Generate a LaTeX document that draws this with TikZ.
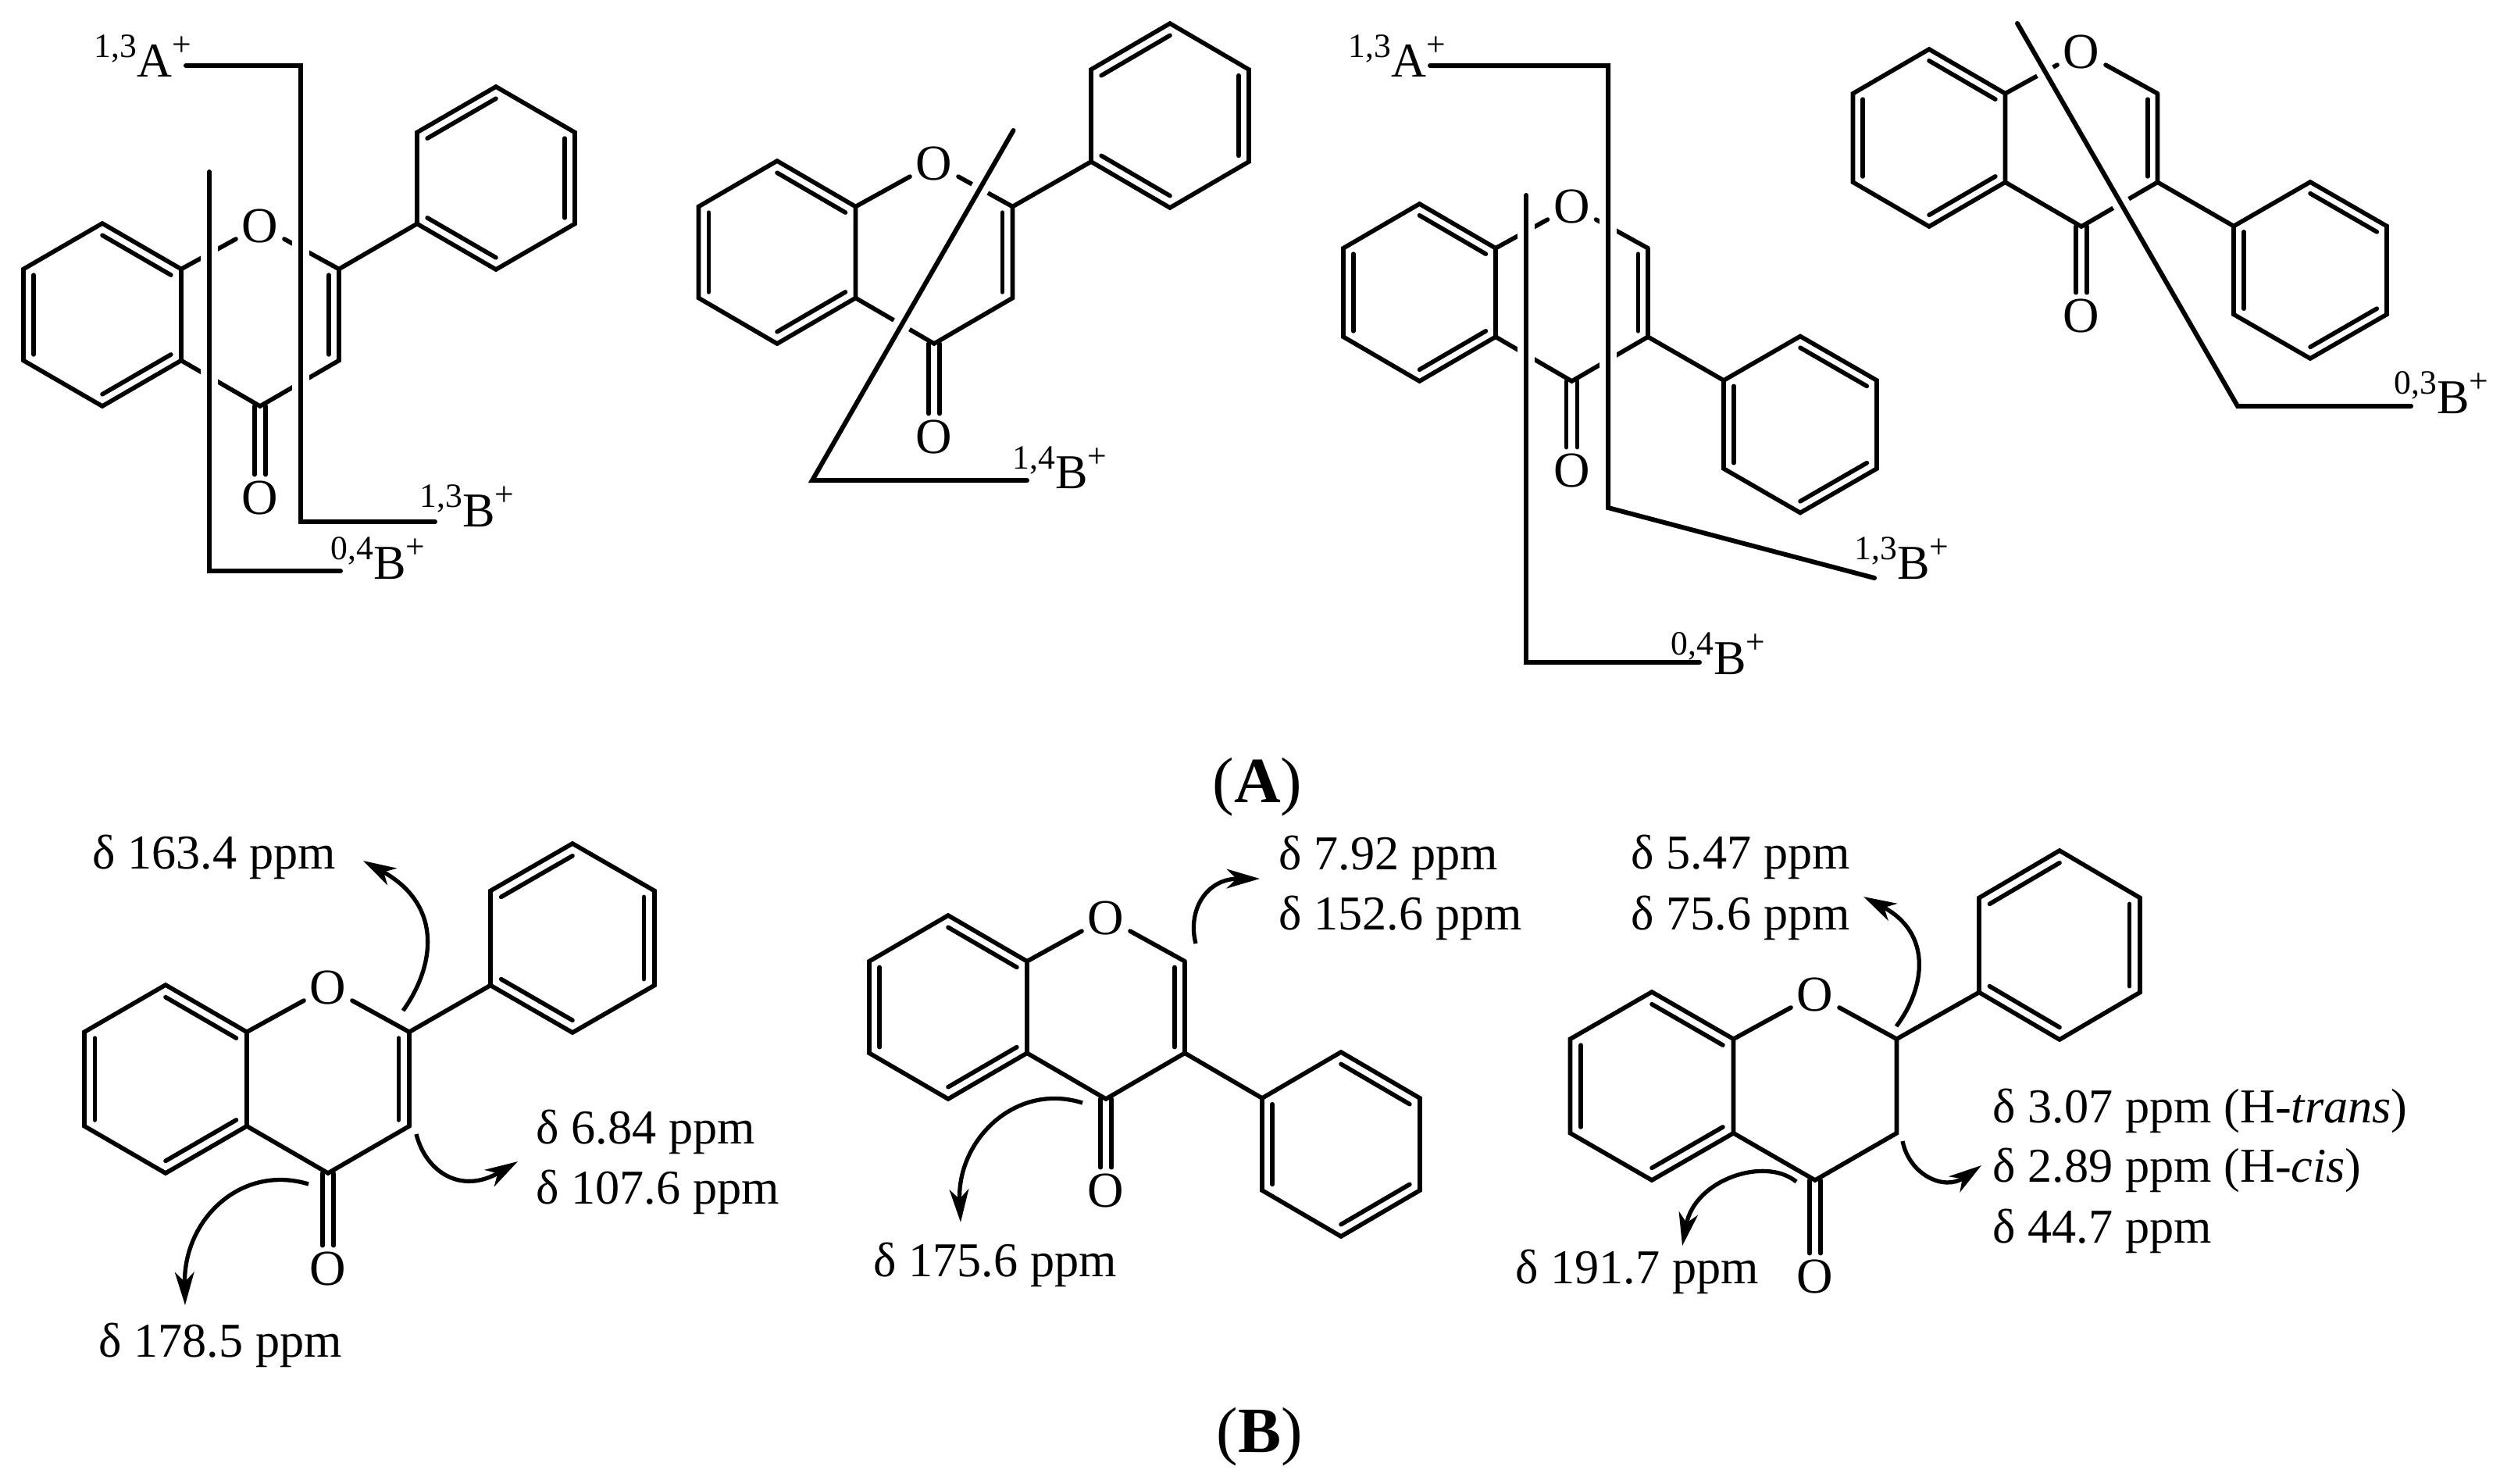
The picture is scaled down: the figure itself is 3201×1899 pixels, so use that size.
\documentclass[tikz,border=0pt]{standalone}
\usepackage{fontspec}
\setmainfont{Liberation Serif}
\usetikzlibrary{calc,arrows.meta}

\tikzset{
  bond/.style={line width=1.6pt,line cap=round},
  atom/.style={font=\fontsize{18.3}{20}\selectfont,inner sep=2pt},
  lbl/.style={font=\fontsize{17.7}{20}\selectfont,anchor=base west,inner sep=0pt},
  title/.style={font=\fontsize{23.5}{26}\selectfont,anchor=base west,inner sep=0pt},
  cutline/.style={line width=1.7pt,line cap=round},
  cuthalo/.style={line width=6.5pt,white},
  shiftarrow/.style={line width=1.5pt,-{Stealth[length=12pt,width=7pt,inset=3.5pt]}}
}

% six corners of a ring: prefix, centre x, centre y, half width, half height
\newcommand{\hexpts}[5]{
  \coordinate (#1c) at (#2,#3);
  \coordinate (#1t) at (#2,#3-#5);
  \coordinate (#1ur) at (#2+#4,#3-#5/2);
  \coordinate (#1lr) at (#2+#4,#3+#5/2);
  \coordinate (#1b) at (#2,#3+#5);
  \coordinate (#1ll) at (#2-#4,#3+#5/2);
  \coordinate (#1ul) at (#2-#4,#3-#5/2);
}
\newcommand{\dbl}[3]{\draw[bond] ($(#1)!.13!(#3)$) -- ($(#2)!.13!(#3)$);}
\newcommand{\hexa}[1]{\draw[line width=1.6pt] (#1t) -- (#1ur) -- (#1lr) -- (#1b) -- (#1ll) -- (#1ul) -- cycle;}
\newcommand{\dblA}[1]{\dbl{#1ul}{#1t}{#1c} \dbl{#1ur}{#1lr}{#1c} \dbl{#1ll}{#1b}{#1c}}
\newcommand{\dblB}[1]{\dbl{#1t}{#1ur}{#1c} \dbl{#1ul}{#1ll}{#1c} \dbl{#1b}{#1lr}{#1c}}

% fused rings: prefix, centre x, centre y, half width, half height, y of carbonyl O
\newcommand{\core}[6]{
  \hexpts{#1a}{#2}{#3}{#4}{#5}
  \hexpts{#1p}{#2+2*#4}{#3}{#4}{#5}
  \node[atom] (#1ox) at ($(#1pt)+(0,3)$) {O};
  \node[atom] (#1co) at (#2+2*#4,#6) {O};
  \hexa{#1a}
  \dblB{#1a}
  \draw[bond] (#1aur) -- (#1ox);
  \draw[bond] (#1ox) -- (#1pur);
  \draw[line width=1.6pt] (#1pur) -- (#1plr) -- (#1pb) -- (#1alr);
  \draw[bond] ($(#1pb)+(-7,0)$) -- ($(#1co.north)+(-7,0)$);
  \draw[bond] ($(#1pb)+(7,0)$) -- ($(#1co.north)+(7,0)$);
}

% cut line with one corner: name, three points
\newcommand{\cutmark}[4]{
  \coordinate (#1a) at (#2);
  \coordinate (#1b) at (#3);
  \coordinate (#1c) at (#4);
  \draw[cuthalo] (#1a) -- (#1b);
  \draw[cutline] (#1a) -- (#1b) -- (#1c);
}

\newcommand{\frag}[2]{\raisebox{.4em}{\fontsize{12.4}{12}\selectfont #1}#2\raisebox{.42em}{\fontsize{12.4}{12}\selectfont +}}

% curved arrow: name, start, control, control, tip
\newcommand{\shift}[5]{
  \coordinate (#1s) at (#2);
  \coordinate (#1t) at (#5);
  \draw[shiftarrow] (#1s) .. controls (#3) and (#4) .. (#1t);
}

\begin{document}
\begin{tikzpicture}[x=.01cm,y=-.01cm]
\useasboundingbox (0,0) rectangle (3201,1899);

% (A) fragmentation
\core{m}{131}{403}{101}{117}{637}
\dbl{mpur}{mplr}{mpc}
\hexpts{mr}{635}{228}{101}{117}
\hexa{mr}
\dblA{mr}
\draw[bond] (mpur) -- (mrll);
\cutmark{mk}{268,220}{268,731}{436,731}
\coordinate (mka) at (238,84);
\coordinate (mkb) at (385,84);
\coordinate (mkc) at (385,668);
\coordinate (mkd) at (557,668);
\draw[cuthalo] (mkb) -- (mkc);
\draw[cutline] (mka) -- (mkb) -- (mkc) -- (mkd);
\node[lbl] (mfa) at (120,98) {\frag{1,3}{A}};
\node[lbl] (mfb) at (537,674) {\frag{1,3}{B}};
\node[lbl] (mfc) at (423,741) {\frag{0,4}{B}};

\core{n}{995}{323}{100.5}{117}{559}
\dbl{npur}{nplr}{npc}
\hexpts{nr}{1498}{148}{101}{118}
\hexa{nr}
\dblA{nr}
\draw[bond] (npur) -- (nrll);
\cutmark{nk}{1297.5,167}{1040,615}{1315,615}
\node[lbl] (nfa) at (1296,625) {\frag{1,4}{B}};

\core{q}{1817.5}{374.5}{97.5}{113.5}{602}
\dbl{qpur}{qplr}{qpc}
\hexpts{qr}{2305}{543.5}{98}{113}
\hexa{qr}
\dblB{qr}
\draw[bond] (qplr) -- (qrul);
\cutmark{qk}{1954,250}{1954,848}{2176,848}
\coordinate (qla) at (1831,84);
\coordinate (qlb) at (2059,84);
\coordinate (qlc) at (2059,650);
\coordinate (qld) at (2400,740);
\draw[cuthalo] (qlb) -- (qlc);
\draw[cutline] (qla) -- (qlb) -- (qlc) -- (qld);
\node[lbl] (qfa) at (1726,98) {\frag{1,3}{A}};
\node[lbl] (qfb) at (2374,741) {\frag{1,3}{B}};
\node[lbl] (qfc) at (2139,863) {\frag{0,4}{B}};

\core{s}{2470}{176.5}{97.5}{113.5}{404}
\dbl{spur}{splr}{spc}
\hexpts{sr}{2958}{346}{98}{113}
\hexa{sr}
\dblB{sr}
\draw[bond] (splr) -- (srul);
\cutmark{sk}{2583,30}{2865,520}{3087,520}
\node[lbl] (sfa) at (3065,529) {\frag{0,3}{B}};

\node[title] (ta) at (1552,1027) {(\textbf{A})};

% (B) shifts
\core{u}{212}{1381.5}{104}{120.5}{1624}
\dbl{upur}{uplr}{upc}
\hexpts{ur}{733}{1201}{105}{121}
\hexa{ur}
\dblA{ur}
\draw[bond] (upur) -- (urll);
\shift{ua}{516,1294}{555,1240}{570,1160}{465,1102}
\shift{ub}{533,1452}{545,1500}{590,1530}{663,1487}
\shift{uc}{395,1516}{310,1490}{235,1560}{237,1671}
\node[lbl] (ula) at (118,1112) {δ 163.4 ppm};
\node[lbl] (ulb) at (686,1464) {δ 6.84 ppm};
\node[lbl] (ulc) at (686,1541) {δ 107.6 ppm};
\node[lbl] (uld) at (126,1737) {δ 178.5 ppm};

\core{v}{1214}{1289.5}{101}{117.5}{1524}
\dbl{vpur}{vplr}{vpc}
\hexpts{vr}{1717}{1465}{101}{118}
\hexa{vr}
\dblB{vr}
\draw[bond] (vplr) -- (vrul);
\shift{va}{1531,1208}{1520,1165}{1545,1125}{1613,1125}
\shift{vb}{1386,1412}{1300,1385}{1225,1460}{1230,1565}
\node[lbl] (vla) at (1637,1113) {δ 7.92 ppm};
\node[lbl] (vlb) at (1637,1190) {δ 152.6 ppm};
\node[lbl] (vlc) at (1118,1634) {δ 175.6 ppm};

\core{w}{2115}{1390.5}{104.5}{120.5}{1634}
\hexpts{wr}{2637}{1210}{103}{121}
\hexa{wr}
\dblA{wr}
\draw[bond] (wpur) -- (wrll);
\shift{wa}{2428,1314}{2465,1265}{2475,1195}{2386,1148}
\shift{wb}{2436,1461}{2445,1505}{2490,1525}{2537,1492}
\shift{wc}{2300,1513}{2260,1480}{2170,1510}{2154,1595}
\node[lbl] (wla) at (2088,1112) {δ 5.47 ppm};
\node[lbl] (wlb) at (2088,1190) {δ 75.6 ppm};
\node[lbl] (wlc) at (2551,1437) {δ 3.07 ppm (H-\textit{trans})};
\node[lbl] (wld) at (2551,1513) {δ 2.89 ppm (H-\textit{cis})};
\node[lbl] (wle) at (2551,1591) {δ 44.7 ppm};
\node[lbl] (wlf) at (1940,1643) {δ 191.7 ppm};

\node[title] (tb) at (1557,1859) {(\textbf{B})};

\end{tikzpicture}
\end{document}
